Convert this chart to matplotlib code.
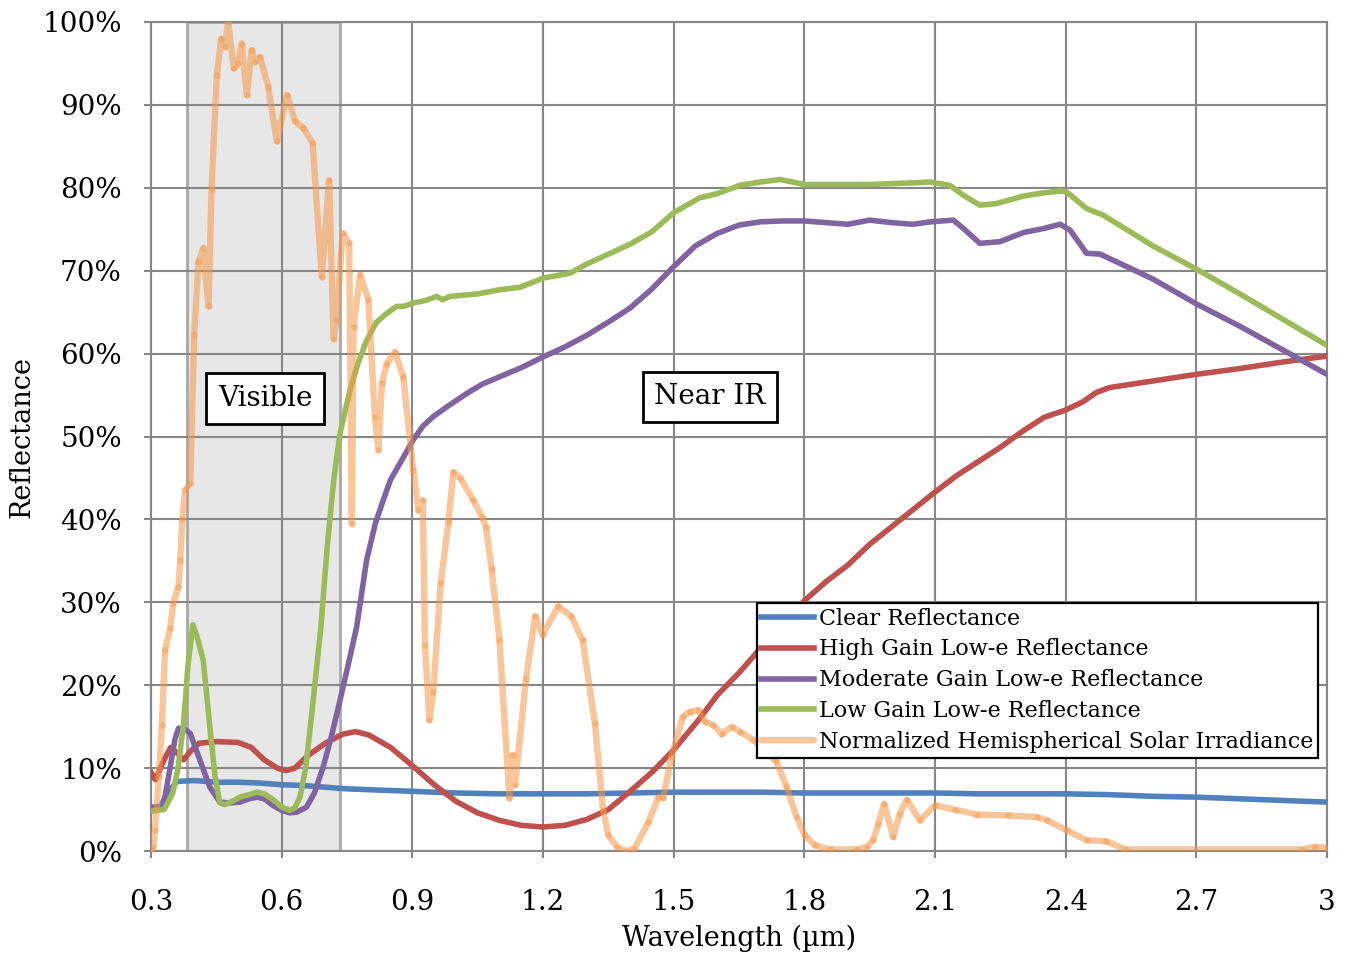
import matplotlib
matplotlib.use("Agg")
import matplotlib.pyplot as plt

"""
Reflectance of glazing types vs. wavelength, with normalized solar irradiance
"""

# --- DATA (wavelength in um, values in %) ---
clear_wl = [0.30, 0.32, 0.34, 0.36, 0.40, 0.45, 0.50, 0.55, 0.60, 0.65, 0.70, 0.75, 0.80,
            0.85, 0.90, 1.00, 1.10, 1.20, 1.30, 1.40, 1.50, 1.60, 1.70, 1.80, 1.90, 2.00,
            2.10, 2.20, 2.30, 2.40, 2.50, 2.60, 2.70, 2.80, 2.90, 3.00]
clear_r = [5.0, 5.2, 7.2, 8.4, 8.5, 8.3, 8.3, 8.2, 8.0, 7.9, 7.7, 7.5, 7.4,
           7.3, 7.2, 7.0, 6.9, 6.9, 6.9, 7.0, 7.1, 7.1, 7.1, 7.0, 7.0, 7.0,
           7.0, 6.9, 6.9, 6.9, 6.8, 6.6, 6.5, 6.3, 6.1, 5.9]

high_wl = [0.30, 0.31, 0.33, 0.345, 0.36, 0.375, 0.39, 0.41, 0.45, 0.50, 0.53, 0.56, 0.59,
           0.61, 0.63, 0.66, 0.70, 0.74, 0.77, 0.80, 0.85, 0.90, 0.95, 1.00, 1.05, 1.10,
           1.15, 1.20, 1.25, 1.30, 1.35, 1.40, 1.45, 1.50, 1.56, 1.60, 1.65, 1.70, 1.75,
           1.80, 1.85, 1.90, 1.95, 2.00, 2.05, 2.10, 2.15, 2.20, 2.25, 2.30, 2.35, 2.40,
           2.44, 2.47, 2.50, 2.60, 2.70, 2.80, 2.90, 3.00]
high_r = [9.5, 8.6, 11.0, 12.5, 11.8, 11.0, 12.0, 13.0, 13.2, 13.1, 12.5, 11.0, 10.0,
          9.7, 10.0, 11.5, 13.0, 14.1, 14.4, 14.0, 12.5, 10.3, 8.0, 6.0, 4.6, 3.7,
          3.1, 2.9, 3.1, 3.8, 5.0, 7.2, 9.5, 12.2, 16.0, 18.8, 21.5, 24.5, 27.5,
          30.2, 32.5, 34.5, 37.0, 39.1, 41.2, 43.3, 45.3, 47.0, 48.7, 50.6, 52.3, 53.2,
          54.2, 55.3, 55.9, 56.7, 57.5, 58.2, 59.0, 59.7]

mod_wl = [0.30, 0.328, 0.344, 0.355, 0.363, 0.375, 0.39, 0.412, 0.435, 0.458, 0.48, 0.504,
          0.525, 0.543, 0.56, 0.58, 0.60, 0.619, 0.635, 0.657, 0.675, 0.695, 0.715, 0.734,
          0.755, 0.772, 0.795, 0.815, 0.833, 0.85, 0.872, 0.902, 0.925, 0.948, 0.98, 1.025,
          1.06, 1.10, 1.15, 1.20, 1.25, 1.30, 1.35, 1.40, 1.45, 1.50, 1.55, 1.60, 1.65,
          1.70, 1.75, 1.80, 1.85, 1.90, 1.95, 2.00, 2.05, 2.09, 2.142, 2.165, 2.203, 2.249,
          2.303, 2.35, 2.387, 2.41, 2.448, 2.479, 2.548, 2.60, 2.70, 2.80, 2.90, 3.00]
mod_r = [5.3, 5.4, 10.1, 13.5, 14.8, 14.8, 14.2, 11.0, 7.7, 5.9, 5.8, 5.9,
         6.3, 6.5, 6.3, 5.5, 4.9, 4.6, 4.7, 5.3, 7.0, 10.1, 14.0, 18.2,
         23.0, 27.0, 35.1, 39.5, 42.3, 44.8, 46.8, 49.6, 51.3, 52.4, 53.6, 55.2,
         56.3, 57.2, 58.3, 59.6, 60.8, 62.2, 63.8, 65.5, 67.8, 70.5, 73.0, 74.5, 75.5,
         75.9, 76.0, 76.0, 75.8, 75.6, 76.1, 75.8, 75.6, 75.9, 76.1, 75.1, 73.3, 73.5,
         74.6, 75.1, 75.6, 74.9, 72.1, 72.0, 70.3, 69.0, 66.0, 63.3, 60.4, 57.5]

low_wl = [0.30, 0.33, 0.35, 0.362, 0.374, 0.385, 0.396, 0.405, 0.42, 0.435, 0.447, 0.458,
          0.47, 0.49, 0.504, 0.525, 0.543, 0.56, 0.58, 0.60, 0.619, 0.63, 0.642, 0.655,
          0.67, 0.69, 0.705, 0.72, 0.734, 0.757, 0.775, 0.795, 0.818, 0.84, 0.864, 0.88,
          0.902, 0.93, 0.956, 0.97, 0.986, 1.05, 1.10, 1.147, 1.20, 1.262, 1.30, 1.35,
          1.40, 1.45, 1.50, 1.56, 1.60, 1.652, 1.70, 1.744, 1.80, 1.85, 1.90, 1.95, 2.00,
          2.05, 2.088, 2.134, 2.165, 2.203, 2.241, 2.303, 2.35, 2.387, 2.402, 2.448, 2.486,
          2.548, 2.60, 2.70, 2.80, 2.90, 3.00]
low_r = [4.8, 5.0, 7.0, 10.0, 15.0, 22.5, 27.3, 26.0, 23.0, 15.0, 9.0, 5.8,
         5.6, 6.1, 6.5, 6.8, 7.1, 6.9, 6.2, 5.3, 4.9, 5.2, 6.5, 10.0,
         17.0, 27.0, 37.0, 45.0, 50.4, 55.6, 58.8, 61.6, 63.8, 64.8, 65.7, 65.7,
         66.1, 66.4, 66.9, 66.5, 66.9, 67.2, 67.7, 68.0, 69.1, 69.7, 70.8, 72.0,
         73.2, 74.7, 77.0, 78.8, 79.3, 80.3, 80.7, 81.0, 80.4, 80.4, 80.4, 80.4, 80.5,
         80.6, 80.7, 80.3, 79.1, 77.9, 78.1, 79.0, 79.4, 79.6, 79.5, 77.5, 76.7,
         74.7, 73.0, 70.2, 67.2, 64.1, 61.0]

solar_wl = [0.300, 0.305, 0.309, 0.318, 0.325, 0.332, 0.344, 0.351, 0.363, 0.367, 0.372,
            0.378, 0.390, 0.399, 0.409, 0.420, 0.432, 0.439, 0.451, 0.461, 0.470, 0.477,
            0.490, 0.500, 0.508, 0.520, 0.531, 0.539, 0.550, 0.569, 0.589, 0.612, 0.631,
            0.650, 0.671, 0.692, 0.709, 0.719, 0.726, 0.740, 0.755, 0.761, 0.765, 0.780,
            0.799, 0.814, 0.822, 0.830, 0.841, 0.860, 0.879, 0.902, 0.914, 0.924, 0.929,
            0.939, 0.948, 0.965, 0.983, 0.994, 1.010, 1.040, 1.060, 1.069, 1.082, 1.100,
            1.123, 1.130, 1.136, 1.161, 1.182, 1.199, 1.235, 1.265, 1.291, 1.319, 1.338,
            1.350, 1.370, 1.390, 1.410, 1.442, 1.465, 1.476, 1.495, 1.521, 1.537, 1.556,
            1.572, 1.591, 1.610, 1.633, 1.652, 1.683, 1.736, 1.759, 1.782, 1.801, 1.824,
            1.858, 1.920, 1.943, 1.958, 1.970, 1.983, 2.004, 2.019, 2.035, 2.065, 2.100,
            2.146, 2.196, 2.268, 2.333, 2.358, 2.402, 2.448, 2.492, 2.536, 2.942, 2.972,
            3.000]
solar_r = [0.0, 0.5, 2.5, 9.0, 15.2, 24.2, 26.9, 29.9, 31.9, 35.1, 40.0,
           43.5, 44.4, 62.2, 71.1, 72.7, 65.7, 79.9, 93.6, 98.0, 97.0, 100.0,
           94.4, 95.0, 97.4, 91.2, 96.6, 95.2, 95.8, 92.2, 85.6, 91.2, 88.0,
           87.2, 85.4, 69.3, 80.9, 61.8, 64.1, 74.5, 73.3, 39.5, 63.2, 69.5,
           66.5, 52.4, 48.4, 56.4, 58.8, 60.2, 57.2, 46.0, 41.1, 42.3, 24.8,
           15.8, 19.2, 32.3, 39.7, 45.7, 45.0, 42.3, 40.3, 39.1, 34.0, 25.4,
           6.4, 11.6, 8.0, 20.8, 28.3, 26.1, 29.5, 28.3, 25.4, 15.4, 4.9,
           1.9, 0.5, 0.0, 0.3, 3.5, 6.5, 6.4, 11.4, 16.2, 16.8, 17.0,
           15.6, 15.2, 14.1, 15.0, 14.4, 13.4, 10.8, 7.8, 4.1, 1.9, 0.7,
           0.2, 0.2, 0.5, 1.3, 3.3, 5.7, 1.7, 4.5, 6.2, 3.7, 5.5,
           5.0, 4.4, 4.3, 4.1, 3.7, 2.5, 1.3, 1.2, 0.2, 0.2, 0.5,
           0.4]

visible_band = (0.383, 0.734)
x_ticks = [0.3, 0.6, 0.9, 1.2, 1.5, 1.8, 2.1, 2.4, 2.7, 3.0]
x_ticklabels = ["0.3", "0.6", "0.9", "1.2", "1.5", "1.8", "2.1", "2.4", "2.7", "3"]
y_ticks = list(range(0, 101, 10))
y_ticklabels = [f"{v}%" for v in y_ticks]

plt.rcParams['font.family'] = ['DejaVu Serif']

fig = plt.figure(figsize=(13.46, 9.56), dpi=100)
ax = fig.add_axes([0.1122, 0.1098, 0.8737, 0.8672])

grid_col = "#878787"
ax.set_axisbelow(True)
ax.grid(True, color=grid_col, linewidth=1.5)
for s in ax.spines.values():
    s.set_color(grid_col)
    s.set_linewidth(1.5)

# shaded visible band
ax.axvspan(visible_band[0], visible_band[1], ymin=0, ymax=1, facecolor="#e7e7e7",
           edgecolor="#a8a8a8", linewidth=2, zorder=0.4)

lw = 4.0
ax.plot(clear_wl, clear_r, color="#4f81bd", lw=lw, label="Clear Reflectance", zorder=3)
ax.plot(high_wl, high_r, color="#c0504d", lw=lw, label="High Gain Low-e Reflectance", zorder=3)
ax.plot(mod_wl, mod_r, color="#8064a2", lw=lw, label="Moderate Gain Low-e Reflectance", zorder=3)
ax.plot(low_wl, low_r, color="#9bbb59", lw=lw, label="Low Gain Low-e Reflectance", zorder=3)
ax.plot(solar_wl, solar_r, color="#f79646", alpha=0.55, lw=4.6, solid_joinstyle="round",
        solid_capstyle="round", label="Normalized Hemispherical Solar Irradiance", zorder=4)
ax.plot(solar_wl, solar_r, linestyle="none", marker="o", markersize=4.6, color="#f79646",
        alpha=0.45, markeredgewidth=0, zorder=4)

# region labels
box = dict(boxstyle="square,pad=0.42", facecolor="white", edgecolor="black", linewidth=2)
ax.text(0.562, 54.6, "Visible", ha="center", va="center", fontsize=20, bbox=box, zorder=5)
ax.text(1.583, 54.8, "Near IR", ha="center", va="center", fontsize=20, bbox=box, zorder=5)

ax.set_xlim(0.3, 3.0)
ax.set_ylim(0, 100)
ax.set_xticks(x_ticks)
ax.set_xticklabels(x_ticklabels)
ax.set_yticks(y_ticks)
ax.set_yticklabels(y_ticklabels)
ax.tick_params(axis="both", direction="out", length=5, width=1.5, color=grid_col,
               labelsize=20)
ax.tick_params(axis="y", pad=16)
ax.tick_params(axis="x", pad=22)

ax.set_xlabel("Wavelength (\u00b5m)", fontsize=19.5)
ax.set_ylabel("Reflectance", fontsize=19.5)
ax.xaxis.set_label_coords(0.5, -0.105)
ax.xaxis.label.set_va("center")
ax.yaxis.set_label_coords(-0.11, 0.5)
ax.yaxis.label.set_va("center")

leg = ax.legend(loc="upper left", bbox_to_anchor=(0.515, 0.299), borderaxespad=0,
                fontsize=16, frameon=True, fancybox=False, framealpha=1,
                handlelength=2.4, handletextpad=0.2, labelspacing=0.4, borderpad=0.2)
leg.get_frame().set_edgecolor("black")
leg.get_frame().set_linewidth(1.6)
leg.set_zorder(6)

plt.savefig("out.png", dpi=100)
